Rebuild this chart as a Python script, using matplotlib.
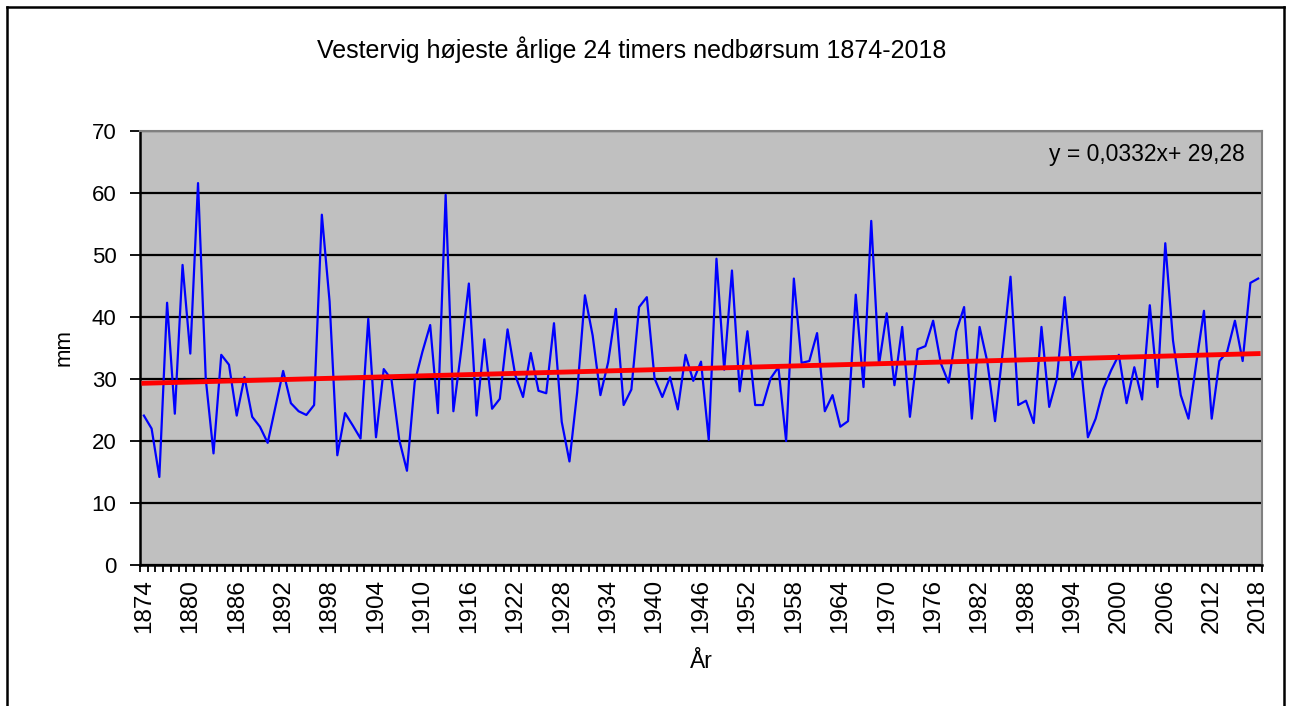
import matplotlib
matplotlib.use("Agg")
import matplotlib.pyplot as plt
from matplotlib.lines import Line2D
import numpy as np

plt.rcParams["font.family"] = ["Liberation Sans", "DejaVu Sans"]

TITLE = "Vestervig højeste årlige 24 timers nedbørsum 1874-2018"
YEARS = list(range(1874, 2019))
# highest 24-hour precipitation per year (mm)
RAIN = [
    24.1, 22.0, 14.2, 42.3, 24.4, 48.4, 34.1, 61.6, 30.0, 18.0,
    33.9, 32.3, 24.1, 30.3, 23.9, 22.3, 19.7, 25.5, 31.3, 26.1,
    24.8, 24.2, 25.8, 56.5, 42.5, 17.7, 24.5, 22.5, 20.4, 39.7,
    20.6, 31.6, 29.9, 20.2, 15.2, 29.5, 34.4, 38.7, 24.5, 59.7,
    24.8, 34.5, 45.4, 24.1, 36.4, 25.2, 26.8, 38.0, 30.6, 27.1,
    34.2, 28.1, 27.7, 39.0, 23.1, 16.7, 27.9, 43.5, 37.0, 27.4,
    32.7, 41.3, 25.8, 28.3, 41.6, 43.2, 30.1, 27.1, 30.3, 25.1,
    33.9, 29.7, 32.8, 20.2, 49.4, 31.5, 47.5, 28.0, 37.7, 25.8,
    25.8, 30.1, 31.9, 20.0, 46.2, 32.6, 32.9, 37.4, 24.8, 27.4,
    22.3, 23.2, 43.6, 28.7, 55.5, 32.3, 40.6, 29.0, 38.4, 23.9,
    34.8, 35.3, 39.4, 32.5, 29.4, 37.7, 41.6, 23.6, 38.4, 32.8,
    23.2, 34.5, 46.5, 25.8, 26.5, 22.9, 38.4, 25.5, 30.1, 43.2,
    30.1, 33.5, 20.6, 23.6, 28.4, 31.4, 33.9, 26.1, 31.9, 26.7,
    41.9, 28.7, 51.9, 36.2, 27.4, 23.6, 32.5, 41.0, 23.6, 32.9,
    34.4, 39.4, 32.9, 45.5, 46.2,
]
# Excel trend line: y = SLOPE * n + INTERCEPT, n = 1..145
SLOPE = 0.0332
INTERCEPT = 29.28
EQ_LABEL = "y = 0,0332x+ 29,28"
YTICKS = [0, 10, 20, 30, 40, 50, 60, 70]

fig = plt.figure(figsize=(12.9, 7.06), dpi=100)
W, H = 1290, 706
ax = fig.add_axes([140 / W, 1 - 565 / H, 1122 / W, 434 / H])
ax.set_facecolor("#C0C0C0")

n = np.arange(1, len(YEARS) + 1)
ax.plot(n, RAIN, color="#0000FF", lw=1.6, zorder=3)
ax.plot(n, SLOPE * n + INTERCEPT, color="#FF0000", lw=3.5, zorder=4)

ax.set_xlim(0.5, len(YEARS) + 0.5)
ax.set_ylim(0, 70)
ax.set_yticks(YTICKS)
ax.yaxis.grid(True, color="black", lw=1.6)
ax.set_axisbelow(True)

lab_idx = [i for i, y in enumerate(YEARS) if (y - 1874) % 6 == 0]
ax.set_xticks([n[i] for i in lab_idx])
ax.set_xticklabels([str(YEARS[i]) for i in lab_idx], rotation=90)
ax.set_xticks(np.arange(0.5, len(YEARS) + 1, 1.0), minor=True)
ax.tick_params(axis="x", which="major", length=0, pad=10, labelsize=17.5)
ax.tick_params(axis="x", which="minor", length=5, width=1.3, color="black")
ax.tick_params(axis="y", length=7, width=1.3, labelsize=16, pad=10)

for s in ("top", "right"):
    ax.spines[s].set_color("#808080")
    ax.spines[s].set_linewidth(1.5)
for s in ("left", "bottom"):
    ax.spines[s].set_color("black")
    ax.spines[s].set_linewidth(1.8)

ax.set_xlabel("År", fontsize=16.5, labelpad=12)
ax.set_ylabel("mm", fontsize=16, labelpad=12)
ax.text(0.985, 0.945, EQ_LABEL, transform=ax.transAxes, ha="right", va="center",
        fontsize=16.5)

fig.text(0.49, 1 - 50 / H, TITLE, ha="center", va="center", fontsize=18)

# outer chart border
for xs, ys in [([7, 1284], [7, 7]), ([7, 7], [7, 720]), ([1284, 1284], [7, 720])]:
    fig.add_artist(Line2D([x / W for x in xs], [1 - y / H for y in ys],
                          color="black", lw=1.8))

fig.savefig("out.png", dpi=100)
